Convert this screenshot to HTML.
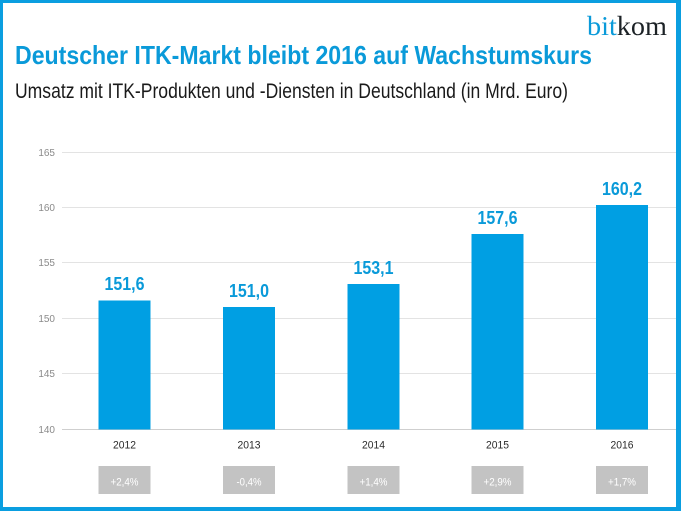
<!DOCTYPE html>
<html>
<head>
<meta charset="utf-8">
<style>
  html, body { margin: 0; padding: 0; background: #fff; }
  svg { display: block; }
</style>
</head>
<body>
<svg width="681" height="511" viewBox="0 0 681 511" xmlns="http://www.w3.org/2000/svg">
  <!-- frame -->
  <rect x="0" y="0" width="681" height="511" fill="#0a9ee0"/>
  <rect x="3" y="3" width="673" height="504" fill="#ffffff"/>

  <!-- logo -->
  <text x="587" y="35" font-family="Liberation Serif, serif" font-size="27" textLength="80" lengthAdjust="spacingAndGlyphs"><tspan fill="#0a9ad9">bit</tspan><tspan fill="#1c2226">kom</tspan></text>

  <!-- title -->
  <text x="15" y="64" font-family="Liberation Sans, sans-serif" font-weight="bold" font-size="26" fill="#0a9ad9" textLength="577" lengthAdjust="spacingAndGlyphs">Deutscher ITK-Markt bleibt 2016 auf Wachstumskurs</text>
  <text x="15" y="98" font-family="Liberation Sans, sans-serif" font-size="21" fill="#1a1a1a" textLength="553" lengthAdjust="spacingAndGlyphs">Umsatz mit ITK-Produkten und -Diensten in Deutschland (in Mrd. Euro)</text>

  <!-- gridlines -->
  <g stroke="#e3e3e3" stroke-width="1">
    <line x1="62" y1="152.5" x2="676" y2="152.5"/>
    <line x1="62" y1="207.5" x2="676" y2="207.5"/>
    <line x1="62" y1="262.5" x2="676" y2="262.5"/>
    <line x1="62" y1="318.5" x2="676" y2="318.5"/>
    <line x1="62" y1="373.5" x2="676" y2="373.5"/>
  </g>
  <line x1="62" y1="429.5" x2="676" y2="429.5" stroke="#cfcfcf" stroke-width="1"/>

  <!-- y labels -->
  <g font-family="Liberation Sans, sans-serif" font-size="10" fill="#8a8a8a" text-anchor="end">
    <text x="55" y="156">165</text>
    <text x="55" y="211">160</text>
    <text x="55" y="266">155</text>
    <text x="55" y="322">150</text>
    <text x="55" y="377">145</text>
    <text x="55" y="433">140</text>
  </g>

  <!-- bars -->
  <g fill="#009fe3">
    <rect x="98.5" y="300.5" width="52" height="129"/>
    <rect x="223" y="307" width="52" height="122.5"/>
    <rect x="347.5" y="284" width="52" height="145.5"/>
    <rect x="471.5" y="234" width="52" height="195.5"/>
    <rect x="596" y="205" width="52" height="224.5"/>
  </g>

  <!-- value labels -->
  <g font-family="Liberation Sans, sans-serif" font-weight="bold" font-size="18" fill="#0a9ad9" text-anchor="middle">
    <text x="124.5" y="290" textLength="40" lengthAdjust="spacingAndGlyphs">151,6</text>
    <text x="249" y="297" textLength="40" lengthAdjust="spacingAndGlyphs">151,0</text>
    <text x="373.5" y="274" textLength="40" lengthAdjust="spacingAndGlyphs">153,1</text>
    <text x="497.5" y="224" textLength="40" lengthAdjust="spacingAndGlyphs">157,6</text>
    <text x="622" y="195" textLength="40" lengthAdjust="spacingAndGlyphs">160,2</text>
  </g>

  <!-- year labels -->
  <g font-family="Liberation Sans, sans-serif" font-size="11" fill="#2a2a2a" text-anchor="middle">
    <text x="124.5" y="448.5" textLength="23" lengthAdjust="spacingAndGlyphs">2012</text>
    <text x="249" y="448.5" textLength="23" lengthAdjust="spacingAndGlyphs">2013</text>
    <text x="373.5" y="448.5" textLength="23" lengthAdjust="spacingAndGlyphs">2014</text>
    <text x="497.5" y="448.5" textLength="23" lengthAdjust="spacingAndGlyphs">2015</text>
    <text x="622" y="448.5" textLength="23" lengthAdjust="spacingAndGlyphs">2016</text>
  </g>

  <!-- growth boxes -->
  <g fill="#c3c3c3">
    <rect x="98.5" y="466" width="52" height="28"/>
    <rect x="223" y="466" width="52" height="28"/>
    <rect x="347.5" y="466" width="52" height="28"/>
    <rect x="471.5" y="466" width="52" height="28"/>
    <rect x="596" y="466" width="52" height="28"/>
  </g>
  <g font-family="Liberation Sans, sans-serif" font-size="11" fill="#ffffff" text-anchor="middle">
    <text x="124.5" y="485.5" textLength="28" lengthAdjust="spacingAndGlyphs">+2,4%</text>
    <text x="249" y="485.5" textLength="25" lengthAdjust="spacingAndGlyphs">-0,4%</text>
    <text x="373.5" y="485.5" textLength="28" lengthAdjust="spacingAndGlyphs">+1,4%</text>
    <text x="497.5" y="485.5" textLength="28" lengthAdjust="spacingAndGlyphs">+2,9%</text>
    <text x="622" y="485.5" textLength="28" lengthAdjust="spacingAndGlyphs">+1,7%</text>
  </g>
</svg>
</body>
</html>
